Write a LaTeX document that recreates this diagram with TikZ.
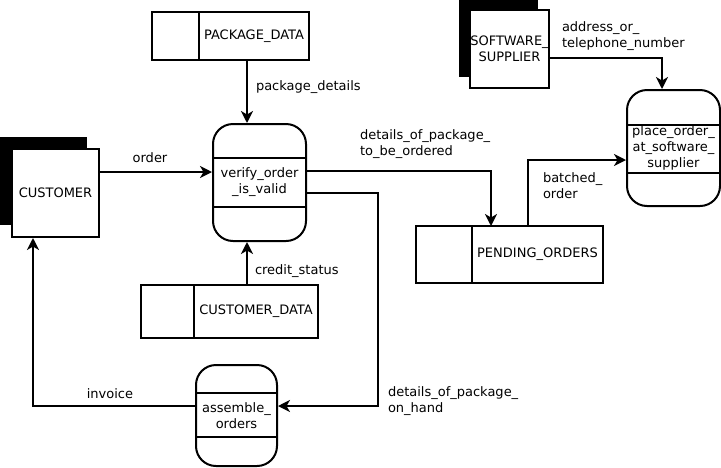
\documentclass[tikz,border=0pt]{standalone}
\usepackage{fontspec}
\setmainfont{DejaVu Sans}
\usetikzlibrary{arrows.meta,positioning,shadows}

\begin{document}
\begin{tikzpicture}
  [x=1pt, y=-1pt, line width=2pt,
   every node/.style={font=\fontsize{13}{16}\selectfont, inner sep=0pt},
   entity/.style={draw, fill=white, align=center,
     general shadow={fill=black, shadow xshift=-#1, shadow yshift=#1}},
   store/.style={draw, outer sep=0pt},
   proc/.style={draw, rounded corners=20pt, align=center},
   flow/.style={-{Stealth[length=12pt,width=12pt,inset=3.5pt]}},
   lbl/.style={align=left, anchor=west}]
  \useasboundingbox (0,0) rectangle (721,467);

  % external entities
  \node[entity=12pt, minimum width=87pt, minimum height=88pt] (cust) at (55.5,193) {CUSTOMER};
  \node[entity=11pt, minimum width=77pt, minimum height=78pt] (supp) at (509.5,49) {SOFTWARE\_\\SUPPLIER};

  % data stores
  \node[store, minimum width=110pt, minimum height=48pt] (pkgdata) at (254,36) {PACKAGE\_DATA};
  \node[store, minimum width=47pt, minimum height=48pt, left=0pt of pkgdata] (pkgdatal) {};
  \node[store, minimum width=124pt, minimum height=53pt] (custdata) at (256,311.5) {CUSTOMER\_DATA};
  \node[store, minimum width=53pt, minimum height=53pt, left=0pt of custdata] (custdatal) {};
  \node[store, minimum width=131pt, minimum height=57pt] (pending) at (537.5,254.5) {PENDING\_ORDERS};
  \node[store, minimum width=56pt, minimum height=57pt, left=0pt of pending] (pendingl) {};

  % processes
  \node[proc, minimum width=93pt, minimum height=117pt] (verify) at (259.5,182.5) {verify\_order\\\_is\_valid};
  \node[proc, minimum width=93pt, minimum height=116pt] (place) at (673.5,148) {place\_order\_\\at\_software\_\\supplier};
  \node[proc, minimum width=81pt, minimum height=101pt] (assemble) at (236.5,415.5) {assemble\_\\orders};
  \foreach \p/\t/\b in {verify/35/35, place/36/34, assemble/29/30} {
    \draw ([yshift=-\t pt]\p.north west) -- ([yshift=-\t pt]\p.north east);
    \draw ([yshift=\b pt]\p.south west) -- ([yshift=\b pt]\p.south east);
  }

  % flows
  \draw[flow] ([xshift=-12.5pt]verify.north |- pkgdata.south) -- ([xshift=-12.5pt]verify.north);
  \draw[flow] (cust.east |- 0,172) -- (verify.west |- 0,172);
  \draw[flow] (verify.east |- 0,171) -| ([xshift=-46.5pt]pending.north);
  \draw[flow] (verify.east |- 0,193) -| (378,406) -- (assemble.east |- 0,406);
  \draw[flow] ([xshift=-12.5pt]verify.south |- custdata.north) -- ([xshift=-12.5pt]verify.south);
  \draw[flow] (assemble.west |- 0,406) -| (cust.south -| 33,0);
  \draw[flow] ([xshift=-9.5pt]pending.north) |- (place.west |- 0,160);
  \draw[flow] (supp.east |- 0,58) -| ([xshift=-11.5pt]place.north);

  % labels
  \node (lorder) at (150,158) {order};
  \node[lbl] (lpkg) at (255,87) {package\_details};
  \node[lbl] (ltobe) at (359,144) {details\_of\_package\_\\to\_be\_ordered};
  \node[lbl] (lhand) at (387,401) {details\_of\_package\_\\on\_hand};
  \node[lbl] (lcredit) at (254,271) {credit\_status};
  \node (linvoice) at (110,394) {invoice};
  \node[lbl] (lbatch) at (542,186) {batched\_\\order};
  \node[lbl] (laddr) at (561,36) {address\_or\_\\telephone\_number};
\end{tikzpicture}
\end{document}
